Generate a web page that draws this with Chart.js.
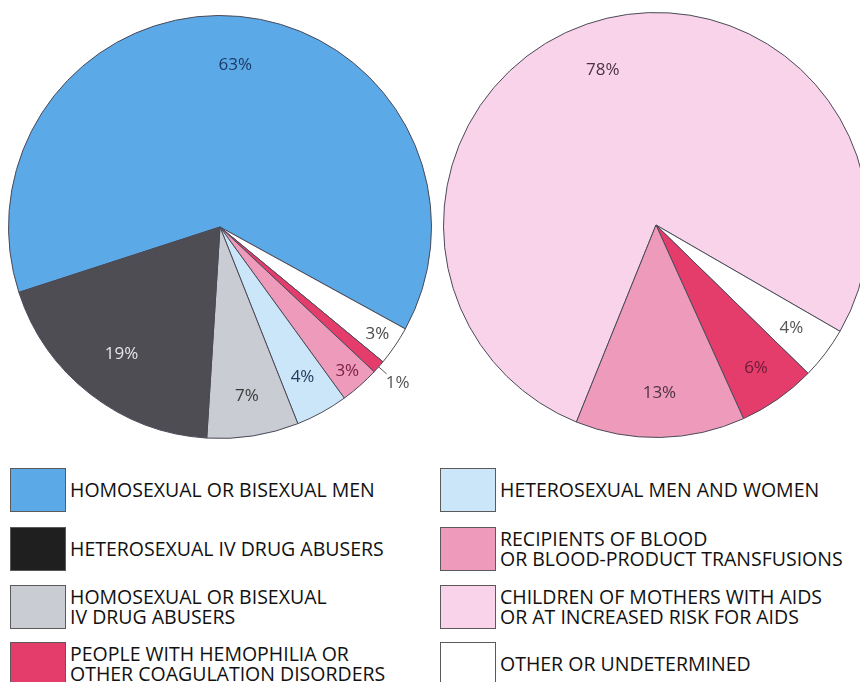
<!DOCTYPE html>
<html>
<head>
<meta charset="utf-8">
<script src="https://cdn.jsdelivr.net/npm/chart.js@4"></script>
<style>
  html, body { margin: 0; padding: 0; background: #fff; }
  body { width: 860px; height: 682px; position: relative; overflow: hidden; }
  .pie { position: absolute; }
  #adults { left: 8px; top: 15px; width: 424px; height: 424px; }
  #children { left: 443px; top: 12px; width: 426px; height: 426px; }
  .key { position: absolute; display: flex; align-items: center; }
  .swatch { width: 56px; height: 44px; box-sizing: border-box; border: 1px solid #5a5a5a; flex: none; }
  .key span { margin-left: 4px; font-family: "Open Sans", sans-serif; font-size: 19.5px; line-height: 20px; color: #111; white-space: nowrap; }
</style>
</head>
<body>
<div class="pie" id="adults"><canvas id="adultsChart"></canvas></div>
<div class="pie" id="children"><canvas id="childrenChart"></canvas></div>
<div id="legend"></div>
<script>
// categories (legend order)
const groups = [
  'HOMOSEXUAL OR BISEXUAL MEN',
  'HETEROSEXUAL IV DRUG ABUSERS',
  'HOMOSEXUAL OR BISEXUAL\nIV DRUG ABUSERS',
  'PEOPLE WITH HEMOPHILIA OR\nOTHER COAGULATION DISORDERS',
  'HETEROSEXUAL MEN AND WOMEN',
  'RECIPIENTS OF BLOOD\nOR BLOOD-PRODUCT TRANSFUSIONS',
  'CHILDREN OF MOTHERS WITH AIDS\nOR AT INCREASED RISK FOR AIDS',
  'OTHER OR UNDETERMINED'
]
const groupColors = ['#5ca9e7', '#4d4d53', '#c9ccd2', '#e43d6c', '#cbe6f8', '#ee9abb', '#f9d3ea', '#ffffff']
const swatchColors = ['#5ca9e7', '#1f1f1f', '#c9ccd2', '#e43d6c', '#cbe6f8', '#ee9abb', '#f9d3ea', '#ffffff']

// adult cases, slices clockwise
const adultGroups = [0, 7, 3, 5, 4, 2, 1]
const adultValues = [63, 3, 1, 3, 4, 7, 19]

// pediatric cases, slices clockwise
const childGroups = [6, 7, 3, 5]
const childValues = [78, 4, 6, 13]

// label placement (fraction of radius) and colours
const adultLabelPos = [0.77, 0.9, 1.12, 0.91, 0.81, 0.81, 0.76]
const adultLabelColors = ['#1c3a66', '#4a4a4a', '#555', '#7a2040', '#253a60', '#3a3a3a', '#e6e6e6']
const childLabelPos = [0.77, 0.8, 0.82, 0.79]
const childLabelColors = ['#4b3344', '#555', '#6d1a35', '#4b3344']

const pctLabels = {
  id: 'pctLabels',
  afterDatasetsDraw(chart, args, opts) {
    const ctx = chart.ctx
    const meta = chart.getDatasetMeta(0)
    const values = chart.data.datasets[0].data
    ctx.save()
    ctx.font = '17px "Open Sans", sans-serif'
    ctx.textAlign = 'center'
    ctx.textBaseline = 'middle'
    meta.data.forEach((arc, i) => {
      const mid = (arc.startAngle + arc.endAngle) / 2
      const r = arc.outerRadius * opts.pos[i]
      const x = arc.x + Math.cos(mid) * r
      const y = arc.y + Math.sin(mid) * r
      if (opts.pos[i] > 1) {
        // short leader for labels sitting outside the pie
        ctx.strokeStyle = '#555'
        ctx.lineWidth = 1
        ctx.beginPath()
        ctx.moveTo(arc.x + Math.cos(mid) * arc.outerRadius, arc.y + Math.sin(mid) * arc.outerRadius)
        ctx.lineTo(arc.x + Math.cos(mid) * arc.outerRadius * 1.05, arc.y + Math.sin(mid) * arc.outerRadius * 1.05)
        ctx.stroke()
      }
      ctx.fillStyle = opts.colors[i]
      ctx.fillText(values[i] + '%', x, y)
    })
    ctx.restore()
  }
}

function makePie(id, idx, values, rotation, pos, colors) {
  new Chart(document.getElementById(id), {
    type: 'pie',
    data: {
      labels: idx.map(g => groups[g]),
      datasets: [{
        data: values,
        backgroundColor: idx.map(g => groupColors[g]),
        borderColor: '#4a4a58',
        borderWidth: 1
      }]
    },
    options: {
      responsive: true,
      maintainAspectRatio: false,
      animation: false,
      rotation: rotation,
      layout: { padding: 0 },
      plugins: {
        legend: { display: false },
        tooltip: { enabled: false },
        pctLabels: { pos: pos, colors: colors }
      }
    },
    plugins: [pctLabels]
  })
}

makePie('adultsChart', adultGroups, adultValues, 252, adultLabelPos, adultLabelColors)
makePie('childrenChart', childGroups, childValues, 202, childLabelPos, childLabelColors)

// two-column key under the pies
const keyRows = [468, 527, 585, 642]
const legend = document.getElementById('legend')
groups.forEach((g, i) => {
  const col = Math.floor(i / 4)
  const item = document.createElement('div')
  item.className = 'key'
  item.style.left = (col ? 440 : 10) + 'px'
  item.style.top = keyRows[i % 4] + 'px'
  const sw = document.createElement('div')
  sw.className = 'swatch'
  sw.style.background = swatchColors[i]
  const txt = document.createElement('span')
  txt.innerHTML = g.replace('\n', '<br>')
  item.appendChild(sw)
  item.appendChild(txt)
  legend.appendChild(item)
})
</script>
</body>
</html>
